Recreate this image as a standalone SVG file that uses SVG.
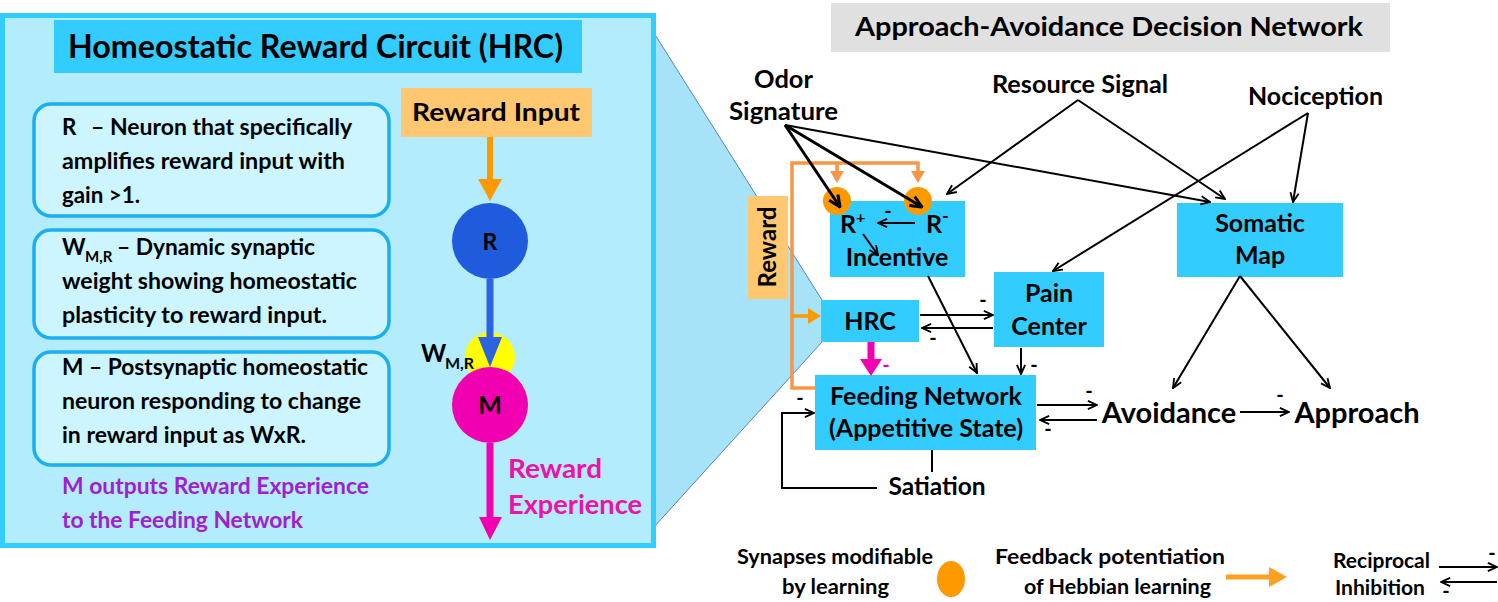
<svg xmlns="http://www.w3.org/2000/svg" width="1498" height="602" viewBox="0 0 1498 602">
<style>
text{font-family:Lato,"Liberation Sans",sans-serif;font-weight:bold;fill:#000}
.ln{stroke:#000;stroke-width:2;fill:none}
.lnA{stroke:#000;stroke-width:2;fill:none;marker-end:url(#open)}
.lnT{stroke:#000;stroke-width:3;fill:none;marker-end:url(#openT)}
.box{fill:#33CCFF}
.tb{fill:#CCF5FF;stroke:#1AAFEF;stroke-width:3.5}
.bt{font-size:22.5px}
.pu{fill:#A020D0}
.lbl{font-size:25px;text-anchor:middle}
.sig{font-size:24.5px}
.neg{font-size:20px;text-anchor:middle}
.leg{font-size:21px}
.fb{stroke:#F79646;stroke-width:3.5;fill:none}
</style>
<defs>
<marker id="open" viewBox="0 0 12 12" markerWidth="11" markerHeight="11" refX="11" refY="6" orient="auto" markerUnits="userSpaceOnUse">
<path d="M1,1.5 L11,6 L1,10.5" fill="none" stroke="#000" stroke-width="2"/>
</marker>
<marker id="openT" viewBox="0 0 12 12" markerWidth="14" markerHeight="14" refX="11" refY="6" orient="auto" markerUnits="userSpaceOnUse">
<path d="M1,1.5 L11,6 L1,10.5" fill="none" stroke="#000" stroke-width="2.6"/>
</marker>
</defs>

<!-- wedge -->
<polygon id="zoom-wedge" points="654,33 822,300 822,342 654,527" fill="#A6E3F9" stroke="#5A7FC0" stroke-width="1"/>

<!-- Left panel -->
<g id="hrc-panel">
<rect x="2.5" y="15.5" width="651" height="530" fill="#B3ECFD" stroke="#33CCFF" stroke-width="5"/>
<rect x="54" y="20" width="528" height="53" fill="#33CCFF"/>
<text x="68" y="58" font-size="33" textLength="495" lengthAdjust="spacingAndGlyphs">Homeostatic Reward Circuit (HRC)</text>
</g>
<g id="desc-R">
<rect class="tb" x="34" y="104" width="355" height="112" rx="17"/>
<text class="bt" x="62" y="135">R</text>
<text class="bt" x="91" y="135" textLength="261" lengthAdjust="spacingAndGlyphs">– Neuron that specifically</text>
<text class="bt" x="62" y="169" textLength="283" lengthAdjust="spacingAndGlyphs">amplifies reward input with</text>
<text class="bt" x="62" y="203" textLength="78" lengthAdjust="spacingAndGlyphs">gain &gt;1.</text>
</g>
<g id="desc-W">
<rect class="tb" x="34" y="230" width="355" height="108" rx="17"/>
<text class="bt" x="62" y="255">W</text>
<text x="85" y="262" font-size="15">M,R</text>
<text class="bt" x="117" y="255" textLength="198" lengthAdjust="spacingAndGlyphs">– Dynamic synaptic</text>
<text class="bt" x="62" y="289" textLength="295" lengthAdjust="spacingAndGlyphs">weight showing homeostatic</text>
<text class="bt" x="62" y="323" textLength="265" lengthAdjust="spacingAndGlyphs">plasticity to reward input.</text>
</g>
<g id="desc-M">
<rect class="tb" x="34" y="352" width="355" height="113" rx="17"/>
<text class="bt" x="62" y="375" textLength="306" lengthAdjust="spacingAndGlyphs">M – Postsynaptic homeostatic</text>
<text class="bt" x="62" y="409" textLength="299" lengthAdjust="spacingAndGlyphs">neuron responding to change</text>
<text class="bt" x="62" y="443" textLength="244" lengthAdjust="spacingAndGlyphs">in reward input as WxR.</text>
</g>
<g id="m-output-note">
<text class="bt pu" x="62" y="494" textLength="307" lengthAdjust="spacingAndGlyphs">M outputs Reward Experience</text>
<text class="bt pu" x="62" y="528" textLength="241" lengthAdjust="spacingAndGlyphs">to the Feeding Network</text>
</g>
<g id="reward-input">
<rect x="401" y="88" width="191" height="49" fill="#FFC870"/>
<text x="412" y="121" font-size="25" textLength="168" lengthAdjust="spacingAndGlyphs">Reward Input</text>
</g>
<g id="hrc-arrows">
<line x1="490" y1="137" x2="490" y2="182" stroke="#FF9900" stroke-width="6"/>
<polygon points="478,179 502,179 490,201" fill="#FF9900"/>
</g>
<g id="neuron-R">
<circle cx="490" cy="241" r="38" fill="#1F5BDD"/>
<text x="490" y="250" font-size="23" text-anchor="middle">R</text>
</g>
<g id="synapse-W">
<circle cx="490" cy="357" r="25" fill="#FFFF00"/>
<line x1="490" y1="279" x2="490" y2="340" stroke="#2B63E0" stroke-width="7"/>
<polygon points="478,337 502,337 490,367" fill="#2B63E0"/>
<text x="421" y="362" font-size="24">W</text>
<text x="445" y="369" font-size="16">M,R</text>
</g>
<g id="neuron-M">
<circle cx="490" cy="405" r="38" fill="#F000B0"/>
<text x="490" y="414" font-size="25" text-anchor="middle">M</text>
</g>
<g id="reward-experience">
<line x1="490" y1="443" x2="490" y2="520" stroke="#F000B0" stroke-width="7"/>
<polygon points="479,517 502,517 490,540" fill="#F000B0"/>
<text x="508" y="478" font-size="27" style="fill:#EE11AA" textLength="94" lengthAdjust="spacingAndGlyphs">Reward</text>
<text x="508" y="514" font-size="27" style="fill:#EE11AA" textLength="134" lengthAdjust="spacingAndGlyphs">Experience</text>
</g>

<!-- Right panel -->
<g id="title-right">
<rect x="831" y="3" width="559" height="49" fill="#E0E0E0"/>
<text x="855" y="36" font-size="27" textLength="508" lengthAdjust="spacingAndGlyphs">Approach-Avoidance Decision Network</text>
</g>
<g id="odor-signature">
<text class="sig" x="754" y="88" textLength="59" lengthAdjust="spacingAndGlyphs">Odor</text>
<text class="sig" x="729" y="120" textLength="109" lengthAdjust="spacingAndGlyphs">Signature</text>
</g>
<g id="resource-signal">
<text class="sig" x="992" y="93" textLength="176" lengthAdjust="spacingAndGlyphs">Resource Signal</text>
</g>
<g id="nociception">
<text class="sig" x="1248" y="105" textLength="135" lengthAdjust="spacingAndGlyphs">Nociception</text>
</g>
<g id="reward-box">
<rect x="748" y="196" width="40" height="103" fill="#FFC870"/>
<text x="0" y="0" font-size="24" text-anchor="middle" transform="translate(776,247) rotate(-90)">Reward</text>
</g>
<g id="incentive">
<rect class="box" x="830" y="201" width="135" height="76"/>
<text x="840" y="233" font-size="25">R<tspan font-size="16" dy="-10">+</tspan></text>
<text x="926" y="233" font-size="25">R<tspan font-size="18" dy="-10">-</tspan></text>
<text class="lbl" x="897" y="266">Incentive</text>
</g>
<g id="pain-center">
<rect class="box" x="994" y="272" width="110" height="75"/>
<text class="lbl" x="1049" y="302">Pain</text>
<text class="lbl" x="1049" y="335">Center</text>
</g>
<g id="somatic-map">
<rect class="box" x="1177" y="203" width="166" height="74"/>
<text class="lbl" x="1260" y="232">Somatic</text>
<text class="lbl" x="1260" y="264">Map</text>
</g>
<g id="hrc">
<rect class="box" x="822" y="300" width="97" height="42"/>
<text class="lbl" x="870" y="330">HRC</text>
</g>
<g id="feeding-network">
<rect class="box" x="815" y="375" width="221" height="75"/>
<text class="lbl" x="926" y="405">Feeding Network</text>
<text class="lbl" x="926" y="437">(Appetitive State)</text>
</g>
<g id="avoidance">
<text x="1169" y="423" font-size="29" text-anchor="middle">Avoidance</text>
</g>
<g id="approach">
<text x="1357" y="423" font-size="29" text-anchor="middle">Approach</text>
</g>
<g id="satiation">
<text x="937" y="495" font-size="24.5" text-anchor="middle">Satiation</text>
</g>
<g id="synapse-rplus"><circle cx="837" cy="201" r="14" fill="#FF9900"/></g>
<g id="synapse-rminus"><circle cx="918" cy="201" r="14" fill="#FF9900"/></g>

<g id="connectors">
<!-- feedback potentiation (orange) -->
<polyline class="fb" points="815,388 792,388 792,163 918,163 918,172"/>
<line class="fb" x1="837" y1="163" x2="837" y2="172"/>
<polygon points="830,171 844,171 837,183" fill="#F79646"/>
<polygon points="911,171 925,171 918,183" fill="#F79646"/>
<line x1="792" y1="316" x2="810" y2="316" stroke="#FF9900" stroke-width="3.5"/>
<polygon points="808,308 808,324 821,316" fill="#FF9900"/>
<!-- odor signature -->
<line class="lnT" x1="785" y1="125" x2="840" y2="207"/>
<line class="lnT" x1="785" y1="125" x2="922" y2="207"/>
<line class="lnA" x1="785" y1="125" x2="1210" y2="202"/>
<!-- resource signal -->
<line class="lnA" x1="1078" y1="100" x2="947" y2="194"/>
<line class="lnA" x1="1078" y1="100" x2="1225" y2="199"/>
<!-- nociception -->
<line class="lnA" x1="1308" y1="113" x2="1293" y2="202"/>
<line class="lnA" x1="1308" y1="113" x2="1053" y2="271"/>
<!-- inside incentive -->
<line class="lnA" x1="915" y1="223" x2="878" y2="223"/>
<text class="neg" x="888" y="218">-</text>
<line class="lnA" x1="863" y1="234" x2="878" y2="255"/>
<!-- incentive -> feeding -->
<line class="lnA" x1="928" y1="276" x2="977" y2="373"/>
<!-- HRC <-> Pain -->
<line class="lnA" x1="920" y1="315" x2="993" y2="315"/>
<text class="neg" x="983" y="307">-</text>
<line class="lnA" x1="993" y1="328" x2="922" y2="328"/>
<text class="neg" x="933" y="345">-</text>
<!-- Pain -> Feeding -->
<line class="lnA" x1="1021" y1="348" x2="1021" y2="374"/>
<text class="neg" x="1034" y="372">-</text>
<!-- HRC -> Feeding (magenta) -->
<line x1="871" y1="342" x2="871" y2="362" stroke="#F000B0" stroke-width="7"/>
<polygon points="860,359 882,359 871,376" fill="#F000B0"/>
<text class="neg" x="886" y="372" style="fill:#F000B0">-</text>
<!-- Feeding <-> Avoidance -->
<line class="lnA" x1="1037" y1="405" x2="1097" y2="405"/>
<text class="neg" x="1089" y="398">-</text>
<line class="lnA" x1="1097" y1="420" x2="1040" y2="420"/>
<text class="neg" x="1048" y="436">-</text>
<!-- Avoidance -> Approach -->
<line class="lnA" x1="1240" y1="412" x2="1289" y2="412"/>
<text class="neg" x="1280" y="402">-</text>
<!-- Somatic map -> Avoidance / Approach -->
<line class="lnA" x1="1240" y1="276" x2="1173" y2="388"/>
<line class="lnA" x1="1240" y1="276" x2="1330" y2="388"/>
<!-- Satiation loop -->
<line class="ln" x1="932" y1="450" x2="932" y2="472"/>
<polyline class="lnA" points="877,488 782,488 782,413 814,413"/>
<text class="neg" x="800" y="405">-</text>
</g>

<!-- Legend -->
<g id="legend-synapse">
<text class="leg" x="737" y="564" textLength="196" lengthAdjust="spacingAndGlyphs">Synapses modifiable</text>
<text class="leg" x="782" y="594" textLength="107" lengthAdjust="spacingAndGlyphs">by learning</text>
<ellipse cx="951" cy="579" rx="14" ry="18" fill="#FF9900"/>
</g>
<g id="legend-feedback">
<text class="leg" x="995" y="564" textLength="230" lengthAdjust="spacingAndGlyphs">Feedback potentiation</text>
<text class="leg" x="1024" y="594" textLength="187" lengthAdjust="spacingAndGlyphs">of Hebbian learning</text>
<line x1="1226" y1="577" x2="1272" y2="577" stroke="#FFA020" stroke-width="5"/>
<polygon points="1269,567 1269,587 1287,577" fill="#FFA020"/>
</g>
<g id="legend-reciprocal">
<text class="leg" x="1333" y="568" textLength="97" lengthAdjust="spacingAndGlyphs">Reciprocal</text>
<text class="leg" x="1335" y="595" textLength="90" lengthAdjust="spacingAndGlyphs">Inhibition</text>
<line class="lnA" x1="1439" y1="567" x2="1497" y2="567"/>
<text class="neg" x="1492" y="560">-</text>
<line class="lnA" x1="1497" y1="582" x2="1441" y2="582"/>
<text class="neg" x="1446" y="598">-</text>
</g>
</svg>
